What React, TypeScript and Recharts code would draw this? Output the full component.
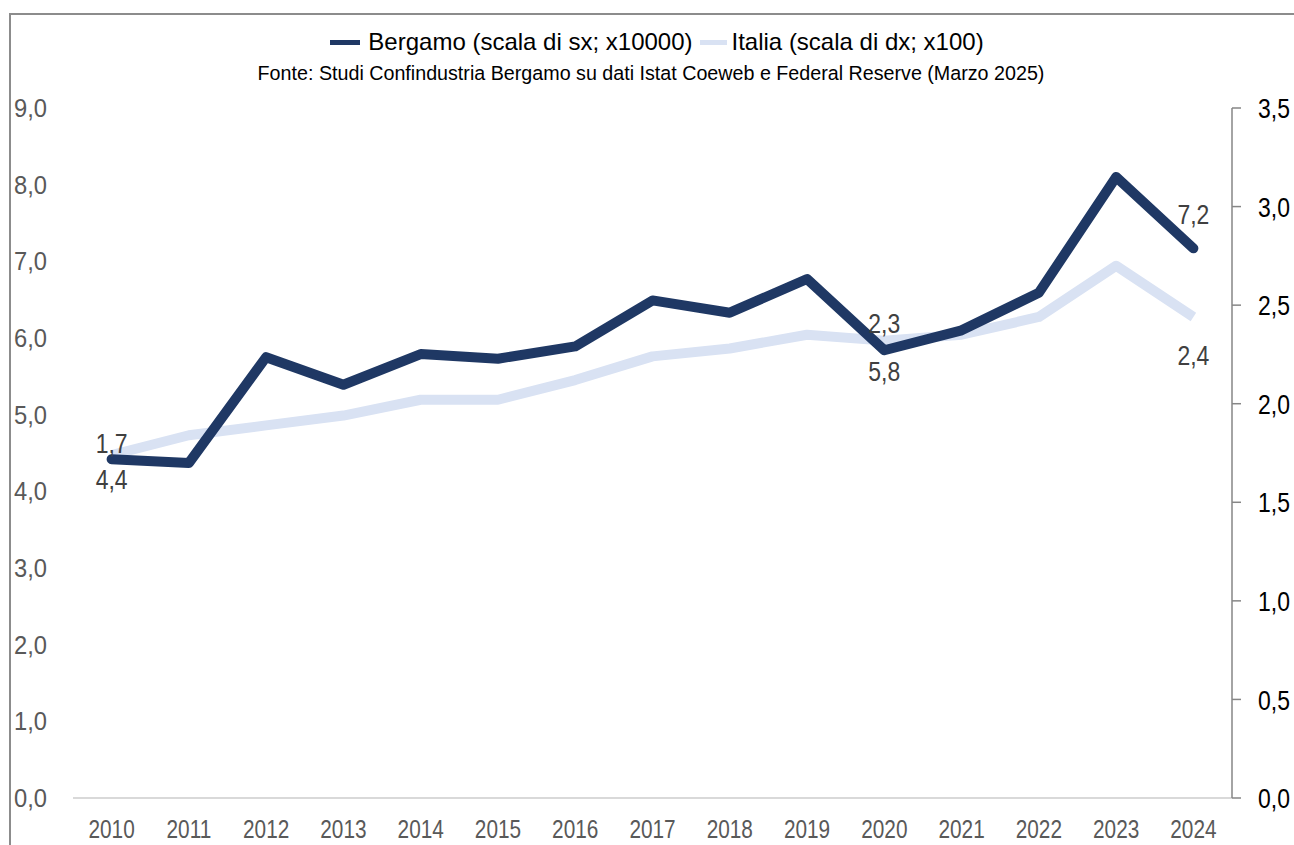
import { LineChart, Line, XAxis, YAxis, LabelList } from "recharts";

const years = ["2010", "2011", "2012", "2013", "2014", "2015", "2016", "2017", "2018", "2019", "2020", "2021", "2022", "2023", "2024"];
// Bergamo, scala di sx (x10000)
const bergamo = [4.42, 4.37, 5.75, 5.39, 5.79, 5.73, 5.89, 6.49, 6.33, 6.77, 5.84, 6.1, 6.59, 8.1, 7.17];
// Italia, scala di dx (x100)
const italia = [1.74, 1.84, 1.89, 1.94, 2.02, 2.02, 2.12, 2.24, 2.28, 2.35, 2.32, 2.35, 2.44, 2.7, 2.44];
const leftTicks = [0, 1, 2, 3, 4, 5, 6, 7, 8, 9];
const rightTicks = [0, 0.5, 1, 1.5, 2, 2.5, 3, 3.5];

const seriesNames = ["Bergamo (scala di sx; x10000)", "Italia (scala di dx; x100)"];
const source = "Fonte: Studi Confindustria Bergamo su dati Istat Coeweb e Federal Reserve (Marzo 2025)";

const data = years.map((year, i) => ({ year, bergamo: bergamo[i], italia: italia[i] }));

const FONT = "'Liberation Sans', Arial, sans-serif";
const DARK = "#1f3864";
const LIGHT = "#d9e2f3";

const fmt = (v: number) => v.toFixed(1).replace(".", ",");

// no narrow font installed, so text is squeezed horizontally to look like Arial Narrow
const makeTick = (opts: { size: number; sx: number; fill: string; dy: string; format?: (v: any) => string }) =>
  (props: any) => {
    const { x, y, payload, textAnchor } = props;
    const label = opts.format ? opts.format(payload.value) : String(payload.value);
    return (
      <g transform={`translate(${x},${y}) scale(${opts.sx},1)`}>
        <text x={0} y={0} dy={opts.dy} textAnchor={textAnchor} fontFamily={FONT} fontSize={opts.size} fill={opts.fill}>
          {label}
        </text>
      </g>
    );
  };

const xTick = makeTick({ size: 26, sx: 0.8, fill: "#595959", dy: "0.71em" });
const leftTick = makeTick({ size: 25, sx: 0.95, fill: "#595959", dy: "0.36em", format: fmt });
const rightTick = makeTick({ size: 28, sx: 0.82, fill: "#000", dy: "0.36em", format: fmt });

// which points get a value label, and how far above/below the point it sits
const bergamoLabels: Record<number, number> = { 0: 20, 10: 21, 14: -34 };
const italiaLabels: Record<number, number> = { 0: -12, 10: -18, 14: 38 };

const pointLabel = (offsets: Record<number, number>) => (props: any) => {
  const { x, y, value, index } = props;
  if (offsets[index] === undefined) return null;
  return (
    <g transform={`translate(${x},${y + offsets[index]}) scale(0.82,1)`}>
      <text x={0} y={0} dy="0.36em" textAnchor="middle" fontFamily={FONT} fontSize={28} fill="#404040">
        {fmt(value)}
      </text>
    </g>
  );
};

export default function App() {
  return (
    <div style={{ position: "absolute", left: 0, top: 0, width: 1294, height: 845, background: "#fff", overflow: "hidden", fontFamily: FONT }}>
      {/* chart frame */}
      <div style={{ position: "absolute", left: 9, top: 13, width: 1290, height: 840, borderTop: "2px solid #8c8c8c", borderLeft: "2px solid #8c8c8c" }} />

      <div style={{ position: "absolute", top: 27, left: 10, width: 1294, display: "flex", justifyContent: "center", alignItems: "center", fontSize: 24, color: "#000", lineHeight: "30px" }}>
        <span style={{ display: "inline-block", width: 30, height: 5, background: DARK, marginRight: 8 }} />
        <span>{seriesNames[0]}</span>
        <span style={{ display: "inline-block", width: 27, height: 5, background: LIGHT, marginLeft: 7, marginRight: 5 }} />
        <span>{seriesNames[1]}</span>
      </div>
      <div style={{ position: "absolute", top: 61, left: 4, width: 1294, textAlign: "center", fontSize: 19.7, color: "#000", lineHeight: "24px" }}>
        {source}
      </div>

      <div style={{ position: "absolute", left: 0, top: 0 }}>
        <LineChart width={1294} height={845} data={data} margin={{ top: 108, right: 0, bottom: 0, left: 0 }}>
          <XAxis
            dataKey="year"
            height={47}
            padding={{ left: 38.6, right: 38.6 }}
            axisLine={{ stroke: "#d9d9d9", strokeWidth: 2 }}
            tickLine={false}
            tickSize={0}
            tickMargin={22}
            tick={xTick}
            interval={0}
          />
          <YAxis
            yAxisId="left"
            orientation="left"
            width={73}
            domain={[0, 9]}
            ticks={leftTicks}
            axisLine={false}
            tickLine={false}
            tickSize={0}
            tickMargin={26}
            tick={leftTick}
          />
          <YAxis
            yAxisId="right"
            orientation="right"
            width={62}
            domain={[0, 3.5]}
            ticks={rightTicks}
            axisLine={{ stroke: "#868686", strokeWidth: 1.5 }}
            tickLine={{ stroke: "#868686", strokeWidth: 1.5 }}
            tickSize={9}
            tickMargin={17}
            tick={rightTick}
          />
          <Line
            yAxisId="right"
            dataKey="italia"
            stroke={LIGHT}
            strokeWidth={10}
            dot={false}
            strokeLinejoin="round"
            isAnimationActive={false}
          >
            <LabelList dataKey="italia" content={pointLabel(italiaLabels)} />
          </Line>
          <Line
            yAxisId="left"
            dataKey="bergamo"
            stroke={DARK}
            strokeWidth={10}
            dot={false}
            strokeLinejoin="round"
            strokeLinecap="round"
            isAnimationActive={false}
          >
            <LabelList dataKey="bergamo" content={pointLabel(bergamoLabels)} />
          </Line>
        </LineChart>
      </div>
    </div>
  );
}
